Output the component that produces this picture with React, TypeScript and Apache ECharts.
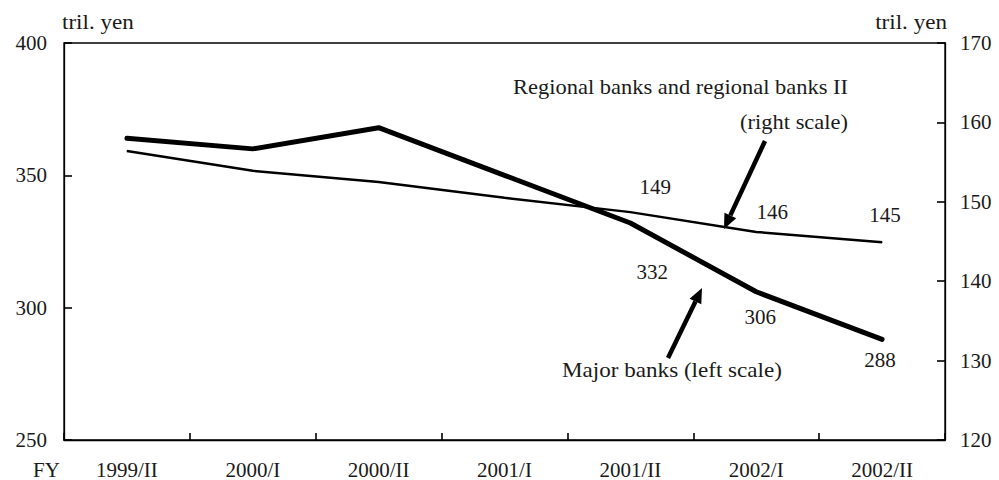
import React, { useEffect, useRef } from "react";
import * as echarts from "echarts";

const categories = ["1999/II", "2000/I", "2000/II", "2001/I", "2001/II", "2002/I", "2002/II"];
const majorBanks = [364, 360, 368, 350, 332, 306, 288];
const regionalBanks = [156.4, 153.9, 152.5, 150.5, 148.7, 146.2, 144.9];
const leftTicks = { min: 250, max: 400, interval: 50 };
const rightTicks = { min: 120, max: 170, interval: 10 };
const majorLabelIdx = [4, 5, 6];
const regionalLabelIdx = [4, 5, 6];
const majorLabelText = ["332", "306", "288"];
const regionalLabelText = ["149", "146", "145"];

const FONT = "Liberation Serif";
const TXT = "#1a1a1a";

const majorOffsets = [[22, 49], [4, 25], [-2, 21]];
const regionalOffsets = [[25, -25], [16, -20], [3, -27]];

function buildData(values: number[], idx: number[], texts: string[], offsets: number[][]) {
  return values.map((v, i) => {
    const k = idx.indexOf(i);
    if (k < 0) return v;
    return {
      value: v,
      label: {
        show: true,
        position: "inside",
        offset: offsets[k],
        formatter: texts[k],
        fontFamily: FONT,
        fontSize: 21,
        color: TXT,
      },
    };
  });
}

function arrow(tail: number[], tip: number[]) {
  const dx = tip[0] - tail[0];
  const dy = tip[1] - tail[1];
  const len = Math.sqrt(dx * dx + dy * dy);
  const ux = dx / len;
  const uy = dy / len;
  const hl = 15;
  const hw = 6.5;
  const bx = tip[0] - hl * ux;
  const by = tip[1] - hl * uy;
  const nx = -uy;
  const ny = ux;
  return [
    {
      type: "line",
      shape: { x1: tail[0], y1: tail[1], x2: bx, y2: by },
      style: { stroke: "#000", lineWidth: 4.5 },
    },
    {
      type: "polygon",
      shape: {
        points: [
          [tip[0], tip[1]],
          [bx + hw * nx, by + hw * ny],
          [bx - hw * nx, by - hw * ny],
        ],
      },
      style: { fill: "#000" },
    },
  ];
}

function note(text: string, x: number, y: number, align: string, scaleX: number, fontSize = 21) {
  return {
    type: "text",
    x,
    y,
    scaleX,
    originX: 0,
    originY: 0,
    style: {
      text,
      fontFamily: FONT,
      fontSize,
      fill: TXT,
      align,
      verticalAlign: "middle",
    },
  };
}

export default function App() {
  const ref = useRef<HTMLDivElement>(null);
  useEffect(() => {
    if (!ref.current) return;
    const chart = echarts.init(ref.current, null, { renderer: "svg" });
    const axisLabel = { fontFamily: FONT, fontSize: 21, color: TXT };
    chart.setOption({
      animation: false,
      backgroundColor: "#fff",
      textStyle: { fontFamily: FONT },
      grid: {
        left: 64,
        right: 54,
        top: 43,
        bottom: 40,
        show: true,
        borderColor: "#000",
        borderWidth: 1.3,
      },
      xAxis: {
        type: "category",
        data: categories,
        boundaryGap: true,
        axisLine: { lineStyle: { color: "#000", width: 1.3 } },
        axisTick: { show: true, inside: true, length: 7, interval: 0, lineStyle: { color: "#000", width: 1.6 } },
        axisLabel: { ...axisLabel, margin: 19, interval: 0 },
        splitLine: { show: false },
        z: 5,
      },
      yAxis: [
        {
          type: "value",
          position: "left",
          min: leftTicks.min,
          max: leftTicks.max,
          interval: leftTicks.interval,
          axisLine: { show: true, lineStyle: { color: "#000", width: 1.3 } },
          axisTick: { show: true, inside: true, length: 8, lineStyle: { color: "#000", width: 1.6 } },
          axisLabel: { ...axisLabel, margin: 17 },
          splitLine: { show: false },
          z: 5,
        },
        {
          type: "value",
          position: "right",
          min: rightTicks.min,
          max: rightTicks.max,
          interval: rightTicks.interval,
          axisLine: { show: true, lineStyle: { color: "#000", width: 1.3 } },
          axisTick: { show: true, inside: true, length: 8, lineStyle: { color: "#000", width: 1.6 } },
          axisLabel: { ...axisLabel, margin: 15 },
          splitLine: { show: false },
          z: 5,
        },
      ],
      series: [
        {
          name: "Regional banks and regional banks II (right scale)",
          type: "line",
          yAxisIndex: 1,
          data: buildData(regionalBanks, regionalLabelIdx, regionalLabelText, regionalOffsets),
          symbol: "circle",
          symbolSize: 1,
          showSymbol: true,
          itemStyle: { color: "#000" },
          lineStyle: { color: "#000", width: 2.5 },
          z: 2,
        },
        {
          name: "Major banks (left scale)",
          type: "line",
          yAxisIndex: 0,
          data: buildData(majorBanks, majorLabelIdx, majorLabelText, majorOffsets),
          symbol: "circle",
          symbolSize: 1,
          showSymbol: true,
          itemStyle: { color: "#000" },
          lineStyle: { color: "#000", width: 5, cap: "round", join: "round" },
          z: 3,
        },
      ],
      graphic: [
        note("tril. yen", 62, 22, "left", 1.1),
        note("tril. yen", 947, 22, "right", 1.1),
        {
          type: "text",
          left: 33,
          top: 459,
          style: { text: "FY", fontFamily: FONT, fontSize: 21, fill: TXT },
        },
        note("Regional banks and regional banks II", 848, 87, "right", 1.07),
        note("(right scale)", 848, 122, "right", 1.07),
        note("Major banks (left scale)", 672, 370, "center", 1.1),
        ...arrow([765, 141], [724, 229]),
        ...arrow([668, 358], [702, 288]),
      ],
    });
    return () => chart.dispose();
  }, []);
  return <div ref={ref} style={{ width: 999, height: 480, position: "absolute", left: 0, top: 0 }} />;
}
